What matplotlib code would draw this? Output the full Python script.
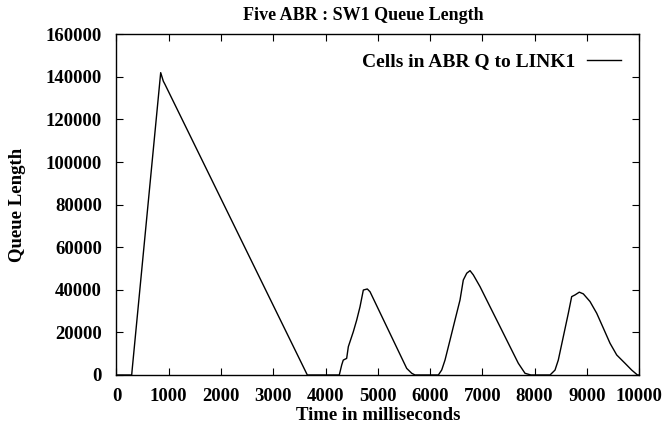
import matplotlib
matplotlib.use("Agg")
import matplotlib.pyplot as plt

# Time (ms) and queue length (cells)
time_ms = [0, 291, 300, 846, 896, 928, 3652,
           4264, 4310, 4340, 4405, 4437, 4532, 4597, 4660, 4724, 4800, 4852, 5554, 5650, 5713,
           6160, 6224, 6287, 6383, 6478, 6574, 6637, 6703, 6766, 6829, 6957, 7148, 7340, 7531,
           7690, 7818, 7930,
           8297, 8392, 8455, 8551, 8647, 8711, 8775, 8857, 8934, 9062, 9190, 9317, 9445, 9573,
           9732, 9860, 9970, 10000]
queue = [0, 0, 2500, 142000, 138000, 136500, 0,
         0, 4700, 7000, 7800, 13300, 20300, 25800, 32000, 39900, 40400, 39100, 3100, 800, 0,
         0, 2350, 7000, 16400, 25800, 35200, 44600, 47800, 49000, 47000, 41500, 32100, 22700,
         13300, 5500, 800, 0,
         0, 2300, 7000, 18000, 29000, 36800, 37600, 38900, 38100, 34500, 29000, 22000, 14900,
         9400, 5500, 2300, 0, 0]

x_ticks = [0, 1000, 2000, 3000, 4000, 5000, 6000, 7000, 8000, 9000, 10000]
y_ticks = [0, 20000, 40000, 60000, 80000, 100000, 120000, 140000, 160000]

title = "Five ABR : SW1 Queue Length"
x_label = "Time in milliseconds"
y_label = "Queue Length"
series_label = "Cells in ABR Q to LINK1"

plt.rcParams['font.family'] = ['Liberation Serif', 'DejaVu Serif']
plt.rcParams['font.weight'] = 'bold'
fs = 13.5

fig = plt.figure(figsize=(6.66, 4.29), dpi=100)
ax = fig.add_axes([0.1749, 0.1259, 0.7846, 0.7941])

ax.plot(time_ms, queue, color='black', linewidth=1.0, label=series_label)

ax.set_xlim(0, 10000)
ax.set_ylim(0, 160000)
ax.set_xticks(x_ticks)
ax.set_yticks(y_ticks)
ax.set_xticklabels([str(v) for v in x_ticks], fontsize=fs, fontweight='bold')
ax.set_yticklabels([str(v) for v in y_ticks], fontsize=fs, fontweight='bold')
ax.tick_params(direction='in', length=5, width=0.8, top=True, right=True)
ax.tick_params(axis='x', pad=9.5)
ax.tick_params(axis='y', pad=10.5)
for s in ax.spines.values():
    s.set_linewidth(1.0)

ax.set_title(title, fontsize=13, fontweight='bold', pad=10, x=0.472)
ax.set_xlabel(x_label, fontsize=fs, fontweight='bold', labelpad=1.5)
ax.set_ylabel(y_label, fontsize=fs, fontweight='bold', labelpad=14)

leg = ax.legend(loc='upper right', frameon=False, fontsize=14, markerfirst=False,
                handlelength=1.75, borderaxespad=0.55, handletextpad=0.6)
for t in leg.get_texts():
    t.set_fontweight('bold')

fig.savefig("out.png", dpi=100)
